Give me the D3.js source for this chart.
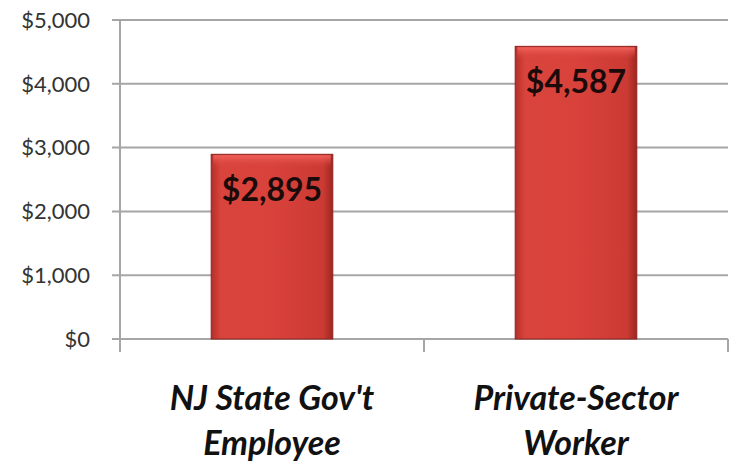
<!DOCTYPE html>
<meta charset="utf-8">
<script src="https://d3js.org/d3.v7.min.js"></script>
<style>
  body { margin: 0; background: #fff; }
</style>
<svg id="chart" width="733" height="467"></svg>
<script>

// data
var categories = [["NJ State Gov't", "Employee"], ["Private-Sector", "Worker"]];
var values = [2895, 4587];
var yTicks = [0, 1000, 2000, 3000, 4000, 5000];

var svg = d3.select("#chart"),
    margin = {left: 120, right: 5, top: 20, bottom: 128},
    width = +svg.attr("width") - margin.left - margin.right,
    height = +svg.attr("height") - margin.top - margin.bottom;

var x = d3.scaleBand()
    .domain(d3.range(categories.length))
    .range([0, width])
    .paddingInner(0.6)
    .paddingOuter(0.3);

// band step per category for the tick marks
var step = width / categories.length;

var y = d3.scaleLinear()
    .domain([0, 5000])
    .range([height, 0]);

var defs = svg.append("defs");
var grad = defs.append("linearGradient").attr("id", "barGrad")
    .attr("x1", "0%").attr("x2", "100%").attr("y1", "0%").attr("y2", "0%");
grad.append("stop").attr("offset", "0%").attr("stop-color", "#b3302a");
grad.append("stop").attr("offset", "8%").attr("stop-color", "#d9443d");
grad.append("stop").attr("offset", "50%").attr("stop-color", "#d8423b");
grad.append("stop").attr("offset", "92%").attr("stop-color", "#cc3a34");
grad.append("stop").attr("offset", "100%").attr("stop-color", "#9e2621");

var topGrad = defs.append("linearGradient").attr("id", "topGrad")
    .attr("x1", "0%").attr("x2", "0%").attr("y1", "0%").attr("y2", "100%");
topGrad.append("stop").attr("offset", "0%").attr("stop-color", "#f0625a");
topGrad.append("stop").attr("offset", "100%").attr("stop-color", "#d9443d").attr("stop-opacity", 0);

var g = svg.append("g").attr("transform", "translate(" + margin.left + "," + margin.top + ")");

// gridlines
g.selectAll(".grid")
  .data(yTicks)
  .enter()
  .append("line")
    .attr("x1", -8)
    .attr("x2", width)
    .attr("y1", function(d){ return y(d) })
    .attr("y2", function(d){ return y(d) })
    .attr("stroke", "#a6a6a6")
    .attr("stroke-width", 2);

// y axis line and category ticks
g.append("line")
    .attr("x1", 0).attr("x2", 0)
    .attr("y1", 0).attr("y2", height + 13)
    .attr("stroke", "#a6a6a6").attr("stroke-width", 2);

g.selectAll(".ctick")
  .data(d3.range(1, categories.length + 1))
  .enter()
  .append("line")
    .attr("x1", function(d){ return d * step })
    .attr("x2", function(d){ return d * step })
    .attr("y1", height)
    .attr("y2", height + 13)
    .attr("stroke", "#a6a6a6").attr("stroke-width", 2);

// y tick labels
g.selectAll(".ylab")
  .data(yTicks)
  .enter()
  .append("text")
    .attr("x", -30)
    .attr("y", function(d){ return y(d) })
    .attr("dy", "0.35em")
    .attr("text-anchor", "end")
    .style("font-family", "Lato, 'Open Sans', sans-serif")
    .style("font-size", "22px")
    .style("fill", "#333")
    .text(function(d){ return "$" + d3.format(",")(d) });

// bars
var bars = g.selectAll(".bar")
  .data(values)
  .enter()
  .append("g");

bars.append("rect")
    .attr("x", function(d, i){ return x(i) })
    .attr("y", function(d){ return y(d) })
    .attr("width", x.bandwidth())
    .attr("height", function(d){ return height - y(d) })
    .attr("fill", "url(#barGrad)")
    .attr("stroke", "#8e221e")
    .attr("stroke-width", 1);

bars.append("rect")
    .attr("x", function(d, i){ return x(i) + 2 })
    .attr("y", function(d){ return y(d) + 1 })
    .attr("width", x.bandwidth() - 4)
    .attr("height", 12)
    .attr("fill", "url(#topGrad)");

// value labels
bars.append("text")
    .attr("x", function(d, i){ return x(i) + x.bandwidth() / 2 })
    .attr("y", function(d){ return y(d) + 47 })
    .attr("text-anchor", "middle")
    .style("font-family", "Lato, 'Open Sans', sans-serif")
    .style("font-weight", "bold")
    .style("font-size", "32px")
    .style("fill", "#1a0a0a")
    .text(function(d){ return "$" + d3.format(",")(d) });

// category labels
var cl = g.selectAll(".clab")
  .data(categories)
  .enter()
  .append("text")
    .attr("text-anchor", "middle")
    .style("font-family", "Lato, 'Open Sans', sans-serif")
    .style("font-weight", "bold")
    .style("font-style", "italic")
    .style("font-size", "34px")
    .style("fill", "#111");

cl.selectAll("tspan")
  .data(function(d, i){ return d.map(function(t){ return {t: t, i: i} }) })
  .enter()
  .append("tspan")
    .attr("x", function(d){ return x(d.i) + x.bandwidth() / 2 })
    .attr("y", function(d, j){ return height + 71 + j * 45 })
    .text(function(d){ return d.t });

</script>
